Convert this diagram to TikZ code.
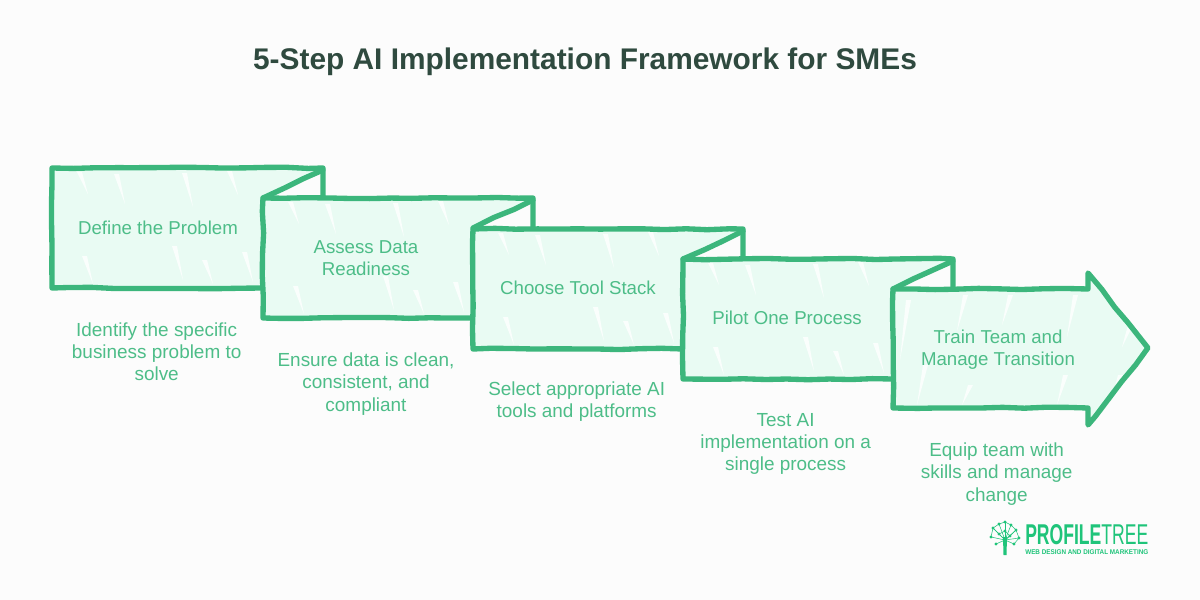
\documentclass[tikz,border=0pt]{standalone}
\usepackage{fontspec}
\setmainfont{Liberation Sans}
\usetikzlibrary{positioning,decorations.pathmorphing}
\definecolor{stepline}{HTML}{3CB67C}
\definecolor{stepfill}{HTML}{E9FBF3}
\definecolor{steptext}{HTML}{4DBD88}
\definecolor{titletext}{HTML}{2F4A3F}
\definecolor{logogreen}{HTML}{1FC47A}
\tikzset{
 rough/.style={draw=stepline,line width=4pt,line join=round,line cap=round,
   decorate,decoration={random steps,segment length=16pt,amplitude=0.55pt}},
 streak/.style={fill=white,opacity=0.8},
 steplabel/.style={text=steptext,font=\fontsize{14}{16.5}\selectfont,align=center},
 stepnote/.style={text=steptext,font=\fontsize{14.2}{16.6}\selectfont,align=center,xshift=-1pt},
}
\begin{document}
\begin{tikzpicture}[x=0.75pt,y=-0.75pt,node distance=93pt]
 \pgfmathsetseed{41}
 \useasboundingbox (0,0) rectangle (1200,600);
 \fill[white!99!black] (0,0) rectangle (1200,600);
 \node (title) [text=titletext,font=\fontsize{22.4}{28}\selectfont\bfseries] at (585,62) {5-Step AI Implementation Framework for SMEs};

 % the four folded steps
 \foreach \bl/\bt/\nx/\fx in {52/168/263/323, 263/198/473/533, 473/229/683/743, 683/259/893/953} {
  \fill[stepfill] (\bl,\bt) -- (\fx,\bt) -- (\nx,\bt+30) -- (\nx,\bt+120) -- (\bl,\bt+120) -- cycle;
  \foreach \sx/\sy/\sl in {25/4/22, 62/6/30, 130/5/34, 175/3/24, 30/88/28, 120/78/34, 150/92/24, 190/84/30} {
   \fill[streak] (\bl+\sx,\bt+\sy) -- ++(5,0) -- ++(6,\sl) -- cycle;
  }
  \draw[rough] (\nx,\bt+120) -- (\bl,\bt+120) -- (\bl,\bt) -- (\fx,\bt) -- (\fx,\bt+30);
  \draw[rough] (\fx,\bt+2) -- (\nx,\bt+30);
 }

 % last step is the arrow
 \fill[stepfill] (893,289) -- (1088,289) -- (1088,273) -- (1148,348) -- (1088,425) -- (1088,408) -- (893,408) -- cycle;
 \foreach \sx/\sy/\sl in {898/300/60, 955/295/36, 1000/295/30, 1065/295/42, 1120/325/22, 915/365/40, 960/385/20, 1055/375/30, 1110/375/24} {
  \fill[streak] (\sx+8,\sy) -- ++(5,0) -- ++(-11,\sl) -- cycle;
 }
 \draw[rough] (893,289) -- (1088,289) -- (1088,273) -- (1148,348) -- (1088,425) -- (1088,408) -- (893,408) -- cycle;

 \node (define)  [steplabel] at (158,228) {Define the Problem};
 \node (assess)  [steplabel] at (366,258) {Assess Data\\Readiness};
 \node (choose)  [steplabel] at (578,288) {Choose Tool Stack};
 \node (pilot)   [steplabel] at (787,318) {Pilot One Process};
 \node (train)   [steplabel] at (998,350) {Train Team and\\Manage Transition};

 \node (identify) [stepnote,below of=define] {Identify the specific\\business problem to\\solve};
 \node (ensure)   [stepnote,below of=assess,node distance=94.5pt,xshift=1pt] {Ensure data is clean,\\consistent, and\\compliant};
 \node (select)   [stepnote,below of=choose,node distance=85.5pt] {Select appropriate AI\\tools and platforms};
 \node (test)     [stepnote,below of=pilot,node distance=94.5pt] {Test AI\\implementation on a\\single process};
 \node (equip)    [stepnote,below of=train] {Equip team with\\skills and manage\\change};

 % logo
 \node (logoname) [text=logogreen,inner sep=0pt,anchor=west] at (1025,535) {\resizebox{92.25pt}{15pt}{\bfseries PROFILE\mdseries TREE}};
 \node (logosub) [text=logogreen,inner sep=0pt,anchor=west] at (1025,552) {\resizebox{92.25pt}{3.6pt}{\bfseries WEB DESIGN AND DIGITAL MARKETING}};
 \fill[logogreen] (1003,537) -- (1007,537) -- (1006.5,555) -- (1003.5,555) -- cycle;
 \foreach \tx/\ty in {993/528, 991/537, 996/544, 999/524, 1005/522, 1011/525, 1016/530, 1019/538, 1014/544, 1005/531, 999/534, 1010/536} {
  \draw[logogreen,line width=0.4pt] (1005,540) -- (\tx,\ty);
  \fill[logogreen] (\tx,\ty) circle (1.6);
 }
 \draw[logogreen,line width=0.4pt] (993,528) -- (999,524) -- (1005,522) -- (1011,525) -- (1016,530) -- (1019,538) -- (1014,544);
 \draw[logogreen,line width=0.4pt] (991,537) -- (993,528) -- (999,534) -- (1005,531) -- (1010,536) -- (1016,530);
\end{tikzpicture}
\end{document}
